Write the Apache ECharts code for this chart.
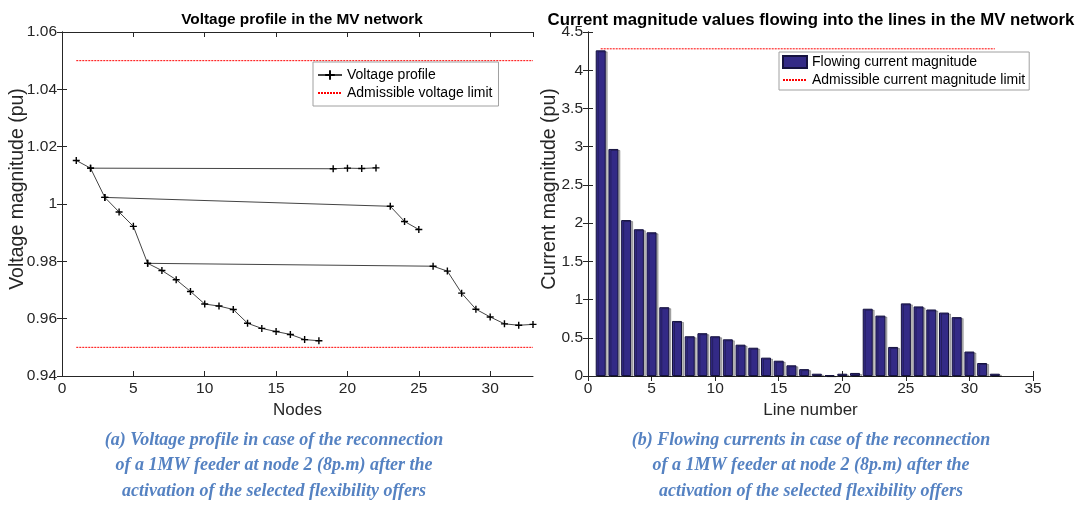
<!DOCTYPE html>
<html>
<head>
<meta charset="utf-8">
<title>MV network: voltage profile and line currents</title>
<script src="https://cdn.jsdelivr.net/npm/echarts@6/dist/echarts.min.js"></script>
<style>
  html, body { margin: 0; padding: 0; background: #ffffff; }
  #chart { width: 1083px; height: 505px; }
</style>
</head>
<body>
<div id="chart"></div>
<script>
// voltage per node (pu), node 1..33
const voltage = [
  1.0152, 1.0125, 1.0023, 0.9972, 0.9922, 0.9793, 0.9768, 0.9736, 0.9695, 0.9651,
  0.9644, 0.9632, 0.9584, 0.9566, 0.9555, 0.9545, 0.9527, 0.9523, 1.0123, 1.0125,
  1.0124, 1.0126, 0.9992, 0.9939, 0.9911, 0.9783, 0.9766, 0.9689, 0.9633, 0.9606,
  0.9582, 0.9577, 0.9580,
]
// feeder branches, as lists of node numbers
const branches = [
  [1, 2, 3, 4, 5, 6, 7, 8, 9, 10, 11, 12, 13, 14, 15, 16, 17, 18],
  [2, 19, 20, 21, 22],
  [3, 23, 24, 25],
  [6, 26, 27, 28, 29, 30, 31, 32, 33],
]
const voltageLimits = [0.95, 1.05]
const voltageLimitSpan = [1, 33]

// current per line (pu), line 1..32
const currents = [
  4.26, 2.97, 2.04, 1.92, 1.88, 0.90, 0.72, 0.52, 0.56, 0.52,
  0.48, 0.41, 0.37, 0.24, 0.20, 0.14, 0.09, 0.03, 0.01, 0.03,
  0.04, 0.88, 0.79, 0.38, 0.95, 0.91, 0.87, 0.83, 0.77, 0.32,
  0.17, 0.03,
]
const currentLimit = 4.28
const currentLimitSpan = [1, 32]

const captionA = [
  '(a) Voltage profile in case of the reconnection',
  'of a 1MW feeder at node 2 (8p.m) after the',
  'activation of the selected flexibility offers',
]
const captionB = [
  '(b) Flowing currents in case of the reconnection',
  'of a 1MW feeder at node 2 (8p.m) after the',
  'activation of the selected flexibility offers',
]

const FONT = '"Liberation Sans", Arial, Helvetica, sans-serif'
const AXIS_COLOR = '#262626'
const PLUS = 'path://M4,0H6V4H10V6H6V10H4V6H0V4H4Z'

const grids = [
  { left: 62, top: 32, width: 471, height: 344 },
  { left: 588, top: 32, width: 445, height: 344 },
]

function trimNum(v) {
  return String(+(+v).toFixed(2))
}

// main axis with labels, plus a mirror axis giving the inward ticks of the box
function xAxes(gridIndex, max, name) {
  const base = {
    type: 'value', gridIndex, min: 0, max, interval: 5,
    axisLine: { show: true, lineStyle: { color: AXIS_COLOR, width: 1 } },
    axisTick: { show: true, inside: true, length: 5, lineStyle: { color: AXIS_COLOR } },
    splitLine: { show: false },
  }
  return [
    {
      ...base, position: 'bottom', name, nameLocation: 'middle', nameGap: 26,
      nameTextStyle: { fontFamily: FONT, fontSize: 17, color: AXIS_COLOR },
      axisLabel: { fontFamily: FONT, fontSize: 15.5, color: AXIS_COLOR, margin: 5, showMaxLabel: max % 5 === 0, formatter: trimNum },
    },
    { ...base, position: 'top', axisLabel: { show: false } },
  ]
}

function yAxes(gridIndex, min, max, interval, name, nameGap) {
  const base = {
    type: 'value', gridIndex, min, max, interval,
    axisLine: { show: true, lineStyle: { color: AXIS_COLOR, width: 1 } },
    axisTick: { show: true, inside: true, length: 5, lineStyle: { color: AXIS_COLOR } },
    splitLine: { show: false },
  }
  return [
    {
      ...base, position: 'left', name, nameLocation: 'middle', nameGap, nameMoveOverlap: false,
      // left padding lifts the rotated name a little above the middle, as in the source
      nameTextStyle: { fontFamily: FONT, fontSize: 19.5, color: AXIS_COLOR, padding: [0, 0, 0, 30] },
      axisLabel: { fontFamily: FONT, fontSize: 15.5, color: AXIS_COLOR, margin: 5, formatter: trimNum },
    },
    { ...base, position: 'right', axisLabel: { show: false } },
  ]
}

const voltageSeries = branches.map((nodes) => ({
  name: 'Voltage profile',
  type: 'line',
  xAxisIndex: 0,
  yAxisIndex: 0,
  data: nodes.map((n) => [n, voltage[n - 1]]),
  symbol: PLUS,
  symbolSize: 7,
  itemStyle: { color: '#000000' },
  lineStyle: { color: '#444444', width: 1 },
  animation: false,
}))

const voltageLimitSeries = voltageLimits.map((v) => ({
  name: 'Admissible voltage limit',
  type: 'line',
  xAxisIndex: 0,
  yAxisIndex: 0,
  data: voltageLimitSpan.map((x) => [x, v]),
  symbol: 'none',
  itemStyle: { color: '#ff0000' },
  lineStyle: { color: '#ff0000', width: 1, type: [2, 1] },
  animation: false,
}))

const currentSeries = {
  name: 'Flowing current magnitude',
  type: 'bar',
  xAxisIndex: 2,
  yAxisIndex: 2,
  data: currents.map((c, i) => [i + 1, c]),
  barWidth: 10,
  itemStyle: {
    color: '#332a86',
    borderColor: '#15123f',
    borderWidth: 1,
    shadowColor: 'rgba(0,0,0,0.28)',
    shadowOffsetX: 2,
    shadowOffsetY: 1,
  },
  animation: false,
}

const currentLimitSeries = {
  name: 'Admissible current magnitude limit',
  type: 'line',
  xAxisIndex: 2,
  yAxisIndex: 2,
  data: currentLimitSpan.map((x) => [x, currentLimit]),
  symbol: 'none',
  itemStyle: { color: '#ff0000' },
  lineStyle: { color: '#ff0000', width: 1, type: [2, 1] },
  z: 3,
  animation: false,
}

function caption(lines, cx) {
  return lines.map((text, i) => ({
    type: 'text',
    x: cx,
    y: 431 + i * 25.5,
    style: {
      text,
      textAlign: 'center',
      fill: '#5582c2',
      font: 'italic bold 18px "Liberation Serif", "Times New Roman", serif',
    },
  }))
}

const legendBase = {
  orient: 'vertical',
  backgroundColor: '#ffffff',
  borderColor: '#a0a0a0',
  borderWidth: 1,
  borderRadius: 0,
  itemGap: 4,
  itemWidth: 24,
  itemHeight: 12,
  textStyle: { fontFamily: FONT, fontSize: 14, color: '#000000' },
  selectedMode: false,
}

// limit entries: dotted line only, no marker
const noMarker = { itemStyle: { opacity: 0 } }

const chart = echarts.init(document.getElementById('chart'), null, { renderer: 'canvas' })
chart.setOption({
  animation: false,
  backgroundColor: '#ffffff',
  title: [
    {
      text: 'Voltage profile in the MV network',
      left: 297, top: 7, textAlign: 'center',
      textStyle: { fontFamily: FONT, fontSize: 15.4, fontWeight: 'bold', color: '#000000' },
    },
    {
      text: 'Current magnitude values flowing into the lines in the MV network',
      left: 806, top: 7, textAlign: 'center',
      textStyle: { fontFamily: FONT, fontSize: 16.8, fontWeight: 'bold', color: '#000000' },
    },
  ],
  grid: grids.map((g) => ({ ...g, show: false })),
  xAxis: [...xAxes(0, 33, 'Nodes'), ...xAxes(1, 35, 'Line number')],
  yAxis: [
    ...yAxes(0, 0.94, 1.06, 0.02, 'Voltage magnitude (pu)', 34),
    ...yAxes(1, 0, 4.5, 0.5, 'Current magnitude (pu)', 28),
  ],
  legend: [
    {
      ...legendBase,
      left: 313, top: 62, padding: [6, 6, 6, 4],
      data: ['Voltage profile', { name: 'Admissible voltage limit', ...noMarker }],
    },
    {
      ...legendBase,
      left: 779, top: 52, padding: [3, 4, 3, 3],
      data: [
        { name: 'Flowing current magnitude', icon: 'rect' },
        { name: 'Admissible current magnitude limit', ...noMarker },
      ],
    },
  ],
  series: [...voltageSeries, ...voltageLimitSeries, currentSeries, currentLimitSeries],
  graphic: [...caption(captionA, 274), ...caption(captionB, 811)],
})
</script>
</body>
</html>
